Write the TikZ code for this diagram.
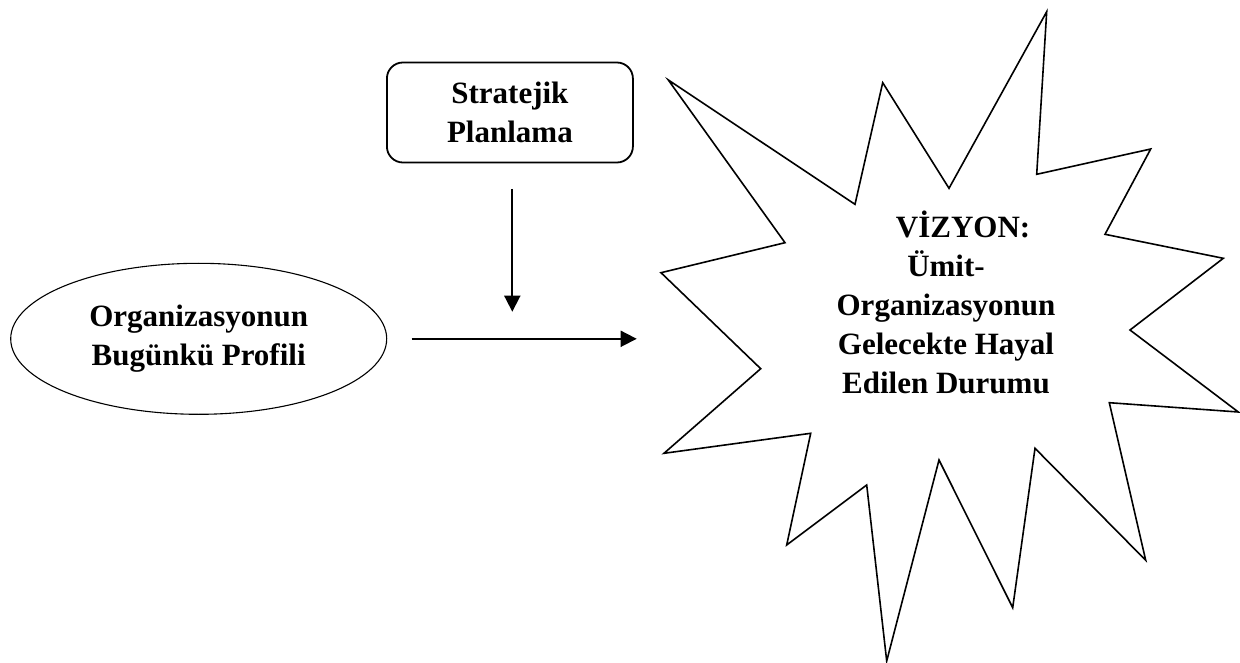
\documentclass[tikz,border=0pt]{standalone}
\usepackage{fontspec}
\setmainfont{Liberation Serif}
\usetikzlibrary{shapes,arrows.meta,positioning}

\begin{document}
\begin{tikzpicture}[x=1pt, y=-1pt, font=\fontsize{31}{39}\selectfont\bfseries,
  flow/.style={-{Triangle[length=16pt,width=16pt]}, line width=1.8pt}]
  \useasboundingbox (0,0) rectangle (1240,663);

  % Nodes
  \node [draw, ellipse, line width=1.1pt, minimum width=376pt, minimum height=151pt, inner sep=0pt, align=center] (profile) at (198.7,338.8) {Organizasyonun\\Bugünkü Profili};
  \node [draw, rectangle, rounded corners=16pt, line width=1.8pt, minimum width=246pt, minimum height=100pt, align=center] (plan) at (509.9,112.5) {Stratejik\\Planlama};

  % Star
  \draw [line width=1.6pt, line join=miter]
    (1046.7,11.7) -- (1036.7,174.3) -- (1150.7,149) -- (1105,234.3)
    -- (1223.3,258.3) -- (1130,330) -- (1238.3,412) -- (1109.3,402.7)
    -- (1145.7,560.3) -- (1035,448.3) -- (1012.7,607.7) -- (939,460)
    -- (886.7,661) -- (866.7,485) -- (786.7,545) -- (810.7,433.3)
    -- (664,453.3) -- (760.7,368.7) -- (661,272.7) -- (785,242.7)
    -- (668.3,80) -- (855,204.3) -- (882.7,82.7) -- (949,188.3) -- cycle;
  \node [align=center] (vision) at (946,302) {\hspace*{1.1em}VİZYON:\\Ümit-\\Organizasyonun\\Gelecekte Hayal\\Edilen Durumu};

  % Arrows
  \coordinate (planend) at (512.3,311.7);
  \coordinate (goal) at (636.7,338.8);
  \draw [flow, shorten <=25.6pt] (plan.south -| planend) -- (planend);
  \draw [flow, shorten <=24.3pt] (profile.east) -- (goal);
\end{tikzpicture}
\end{document}
